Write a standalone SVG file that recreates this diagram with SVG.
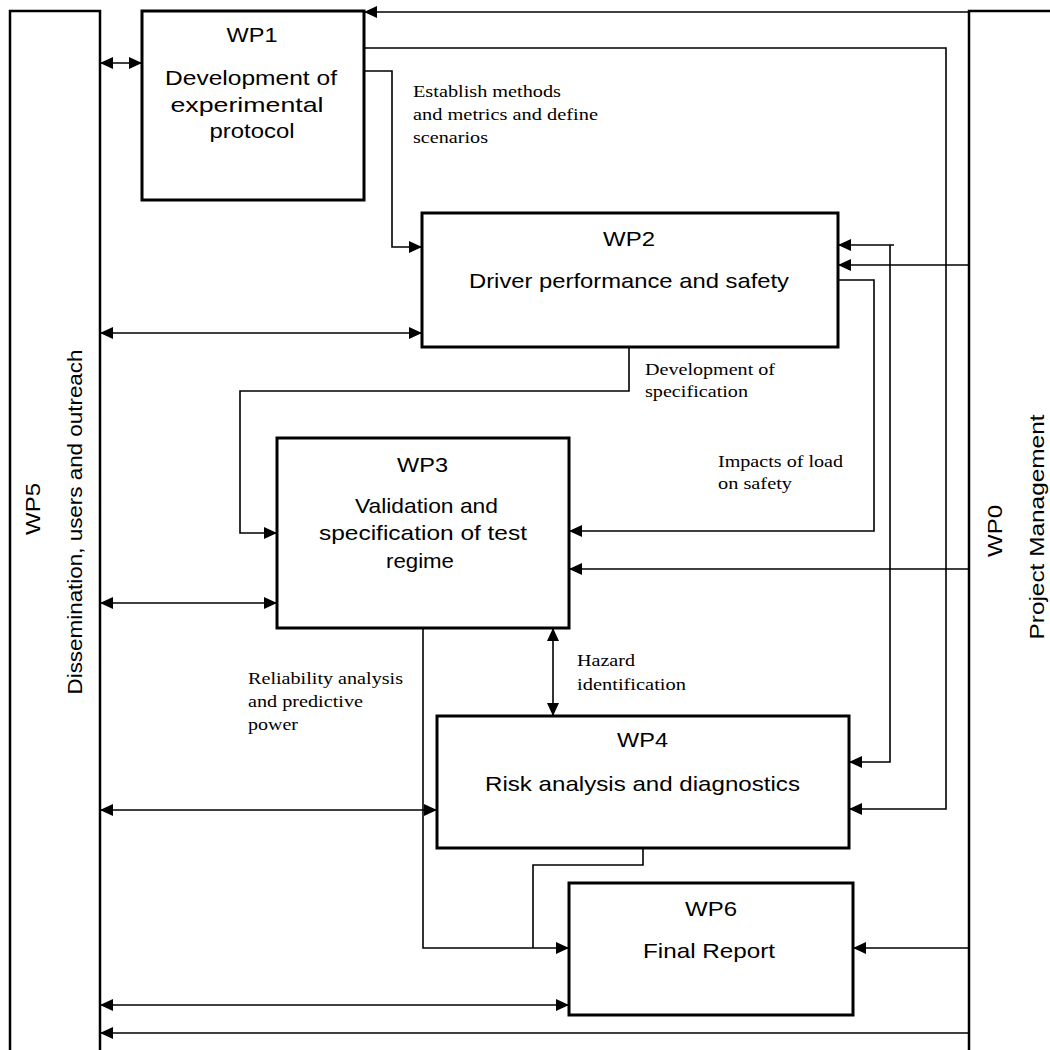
<svg xmlns="http://www.w3.org/2000/svg" width="1050" height="1050" viewBox="0 0 1050 1050">
<style>
.box{fill:#fff;stroke:#000;stroke-width:3}
.col{fill:#fff;stroke:#000;stroke-width:2.5}
.c{fill:none;stroke:#000;stroke-width:1.6}
.t{font-family:"Liberation Sans",Arial,sans-serif;font-size:21px;text-anchor:middle;fill:#000}
.l{font-family:"Liberation Serif","Times New Roman",serif;font-size:17px;fill:#000}
</style>
<defs>
<marker id="a" markerUnits="userSpaceOnUse" markerWidth="14" markerHeight="12" refX="13" refY="6" orient="auto-start-reverse">
<path d="M0,0 L13,6 L0,12 z" fill="#000"/>
</marker>
</defs>
<rect width="1050" height="1050" fill="#fff"/>

<g id="wp5">
<rect class="col" x="10" y="11" width="90" height="1060"/>
<text class="t" x="40" y="509" transform="rotate(-90 40 509)" textLength="52" lengthAdjust="spacingAndGlyphs">WP5</text>
<text class="t" x="82" y="522" transform="rotate(-90 82 522)" textLength="345" lengthAdjust="spacingAndGlyphs">Dissemination, users and outreach</text>
</g>

<g id="wp0">
<rect class="col" x="969" y="11" width="100" height="1060"/>
<text class="t" x="1002" y="531" transform="rotate(-90 1002 531)" textLength="52" lengthAdjust="spacingAndGlyphs">WP0</text>
<text class="t" x="1044" y="527" transform="rotate(-90 1044 527)" textLength="225" lengthAdjust="spacingAndGlyphs">Project Management</text>
</g>

<g id="connectors">
<path class="c" d="M100,63 H142" marker-start="url(#a)" marker-end="url(#a)"/>
<path class="c" d="M969,12 H364" stroke-width="1.2" marker-end="url(#a)"/>
<path class="c" d="M364,48 H946 V809 H849" marker-end="url(#a)"/>
<path class="c" d="M364,71 H392 V247 H422" marker-end="url(#a)"/>
<path class="c" d="M894,245 H838" marker-end="url(#a)"/>
<path class="c" d="M890,245 V762 H849" marker-end="url(#a)"/>
<path class="c" d="M969,265 H838" marker-end="url(#a)"/>
<path class="c" d="M838,280 H874 V531 H569" marker-end="url(#a)"/>
<path class="c" d="M969,569 H569" marker-end="url(#a)"/>
<path class="c" d="M629,347 V391 H240 V533 H277" marker-end="url(#a)"/>
<path class="c" d="M100,333 H422" marker-start="url(#a)" marker-end="url(#a)"/>
<path class="c" d="M100,603 H277" marker-start="url(#a)" marker-end="url(#a)"/>
<path class="c" d="M553,628 V716" marker-start="url(#a)" marker-end="url(#a)"/>
<path class="c" d="M423,628 V948 H569" marker-end="url(#a)"/>
<path class="c" d="M643,848 V865 H533 V948"/>
<path class="c" d="M100,810 H437" marker-start="url(#a)" marker-end="url(#a)"/>
<path class="c" d="M969,948 H853" marker-end="url(#a)"/>
<path class="c" d="M100,1005 H569" marker-start="url(#a)" marker-end="url(#a)"/>
<path class="c" d="M969,1033 H100" marker-end="url(#a)"/>
</g>

<g id="labels">
<text class="l" x="413" y="97" textLength="148" lengthAdjust="spacingAndGlyphs">Establish methods</text>
<text class="l" x="413" y="120" textLength="185" lengthAdjust="spacingAndGlyphs">and metrics and define</text>
<text class="l" x="413" y="143" textLength="75" lengthAdjust="spacingAndGlyphs">scenarios</text>
<text class="l" x="645" y="375" textLength="130" lengthAdjust="spacingAndGlyphs">Development of</text>
<text class="l" x="645" y="397" textLength="103" lengthAdjust="spacingAndGlyphs">specification</text>
<text class="l" x="718" y="467" textLength="125" lengthAdjust="spacingAndGlyphs">Impacts of load</text>
<text class="l" x="718" y="489" textLength="74" lengthAdjust="spacingAndGlyphs">on safety</text>
<text class="l" x="577" y="666" textLength="58" lengthAdjust="spacingAndGlyphs">Hazard</text>
<text class="l" x="577" y="690" textLength="109" lengthAdjust="spacingAndGlyphs">identification</text>
<text class="l" x="248" y="684" textLength="155" lengthAdjust="spacingAndGlyphs">Reliability analysis</text>
<text class="l" x="248" y="707" textLength="115" lengthAdjust="spacingAndGlyphs">and predictive</text>
<text class="l" x="248" y="730" textLength="50" lengthAdjust="spacingAndGlyphs">power</text>
</g>

<g id="wp1">
<rect class="box" x="142" y="11" width="222" height="189"/>
<text class="t" x="252" y="42" textLength="51" lengthAdjust="spacingAndGlyphs">WP1</text>
<text class="t" x="251" y="85" textLength="172" lengthAdjust="spacingAndGlyphs">Development of</text>
<text class="t" x="247" y="112" textLength="153" lengthAdjust="spacingAndGlyphs">experimental</text>
<text class="t" x="252" y="138" textLength="85" lengthAdjust="spacingAndGlyphs">protocol</text>
</g>

<g id="wp2">
<rect class="box" x="422" y="213" width="416" height="134"/>
<text class="t" x="629" y="246" textLength="52" lengthAdjust="spacingAndGlyphs">WP2</text>
<text class="t" x="629" y="288" textLength="320" lengthAdjust="spacingAndGlyphs">Driver performance and safety</text>
</g>

<g id="wp3">
<rect class="box" x="277" y="438" width="292" height="190"/>
<text class="t" x="422.5" y="472" textLength="51" lengthAdjust="spacingAndGlyphs">WP3</text>
<text class="t" x="426.5" y="513" textLength="143" lengthAdjust="spacingAndGlyphs">Validation and</text>
<text class="t" x="423" y="540" textLength="208" lengthAdjust="spacingAndGlyphs">specification of test</text>
<text class="t" x="420" y="568" textLength="68" lengthAdjust="spacingAndGlyphs">regime</text>
</g>

<g id="wp4">
<rect class="box" x="437" y="716" width="412" height="132"/>
<text class="t" x="642.5" y="747" textLength="51" lengthAdjust="spacingAndGlyphs">WP4</text>
<text class="t" x="642.5" y="791" textLength="315" lengthAdjust="spacingAndGlyphs">Risk analysis and diagnostics</text>
</g>

<g id="wp6">
<rect class="box" x="569" y="883" width="284" height="132"/>
<text class="t" x="711" y="916" textLength="52" lengthAdjust="spacingAndGlyphs">WP6</text>
<text class="t" x="709" y="958" textLength="132" lengthAdjust="spacingAndGlyphs">Final Report</text>
</g>
</svg>
